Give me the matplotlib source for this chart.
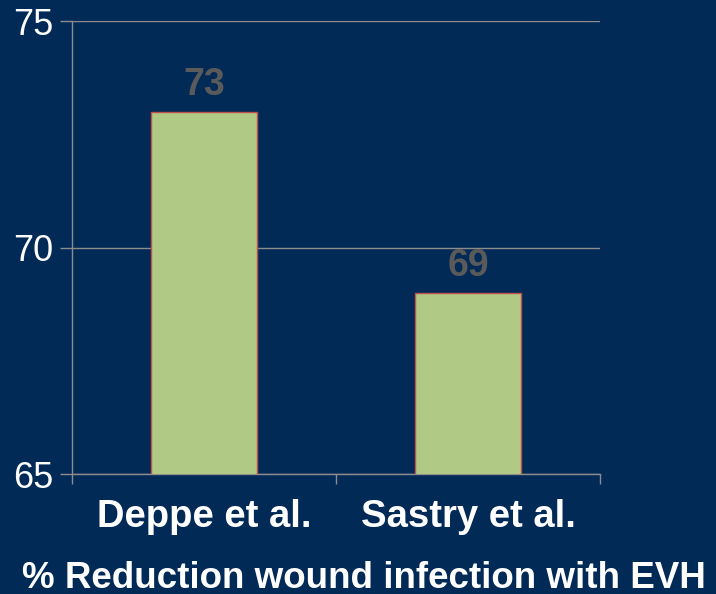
import matplotlib.pyplot as plt
import numpy as np

categories = ["Deppe et al.", "Sastry et al."]
values = [73, 69]
y_ticks = [65, 70, 75]
x_title = "% Reduction wound infection with EVH"

BG = "#012a57"
BAR_FACE = "#b0c984"
BAR_EDGE = "#c0504d"
GRID = "#8c8c8c"
LABEL_GRAY = "#5a5a5a"

plt.rcParams["font.family"] = ["Liberation Sans", "DejaVu Sans"]

fig = plt.figure(figsize=(7.16, 5.94), dpi=100, facecolor=BG)
ax = fig.add_axes([0.1006, 0.202, 0.7374, 0.7625])
ax.set_facecolor(BG)

x = np.arange(len(categories))
bars = ax.bar(x, values, width=0.4, bottom=0, color=BAR_FACE,
              edgecolor=BAR_EDGE, linewidth=1.0, zorder=3)

for xi, v in zip(x, values):
    ax.text(xi, v + 0.2, f"{v}", ha="center", va="bottom",
            fontsize=27, fontweight="bold", color=LABEL_GRAY)

ax.set_xlim(-0.5, 1.5)
ax.set_ylim(65, 75)
ax.set_yticks(y_ticks)
ax.set_yticklabels([str(t) for t in y_ticks])
ax.yaxis.grid(True, color=GRID, linewidth=1.0)
ax.set_axisbelow(True)

ax.set_xticks(x)
ax.set_xticklabels(categories)
ax.set_xticks([-0.5, 0.5, 1.5], minor=True)
ax.tick_params(axis="x", which="major", length=0, pad=18,
               labelsize=27.5, labelcolor="white")
ax.tick_params(axis="x", which="minor", length=7.2, color=GRID, width=1.0,
               direction="out")
for lbl in ax.get_xticklabels():
    lbl.set_fontweight("bold")
ax.tick_params(axis="y", length=8.6, color=GRID, width=1.0, pad=5,
               labelsize=26, labelcolor="white")

for s in ["top", "right"]:
    ax.spines[s].set_visible(False)
for s in ["left", "bottom"]:
    ax.spines[s].set_color(GRID)
    ax.spines[s].set_linewidth(1.0)

fig.text(22 / 716, 1 - 578 / 594, x_title, ha="left", va="center",
         fontsize=26.5, fontweight="bold", color="white")

fig.savefig("out.png", dpi=100, facecolor=BG)
